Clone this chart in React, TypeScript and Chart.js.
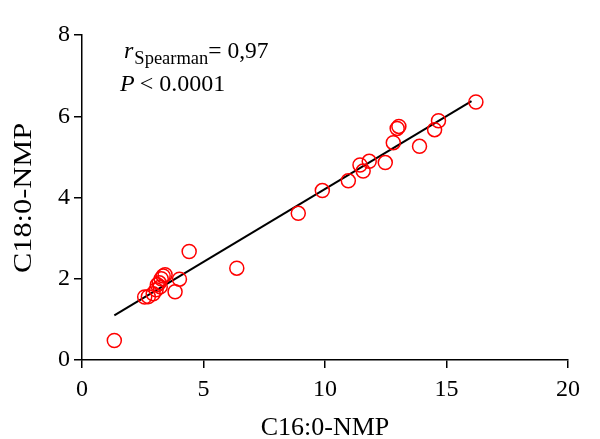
import React, { useEffect, useRef } from "react";
import { Chart, registerables } from "chart.js";

Chart.register(...registerables);

const c16Values = [
  1.33, 2.58, 2.73, 2.93, 3.05, 3.1, 3.18, 3.22, 3.26, 3.34, 3.42, 3.83, 4.01,
  4.41, 6.37, 8.9, 9.89, 10.96, 11.44, 11.57, 11.82, 12.48, 12.81, 12.97, 13.04,
  13.89, 14.51, 14.67, 16.21,
];
const c18Values = [
  0.48, 1.55, 1.56, 1.63, 1.73, 1.85, 1.9, 1.8, 2.0, 2.07, 2.1, 1.68, 1.99,
  2.67, 2.26, 3.61, 4.17, 4.41, 4.8, 4.65, 4.89, 4.86, 5.35, 5.7, 5.75, 5.26,
  5.67, 5.89, 6.35,
];
const fitX = [1.33, 16.03];
const fitY = [1.1, 6.37];
const xTicks = [0, 5, 10, 15, 20];
const yTicks = [0, 2, 4, 6, 8];
const xTitle = "C16:0-NMP";
const yTitle = "C18:0-NMP";
const statLabel = "0,97";
const pLabel = "0.0001";

const SERIF = "'Liberation Serif', 'Times New Roman', serif";

const annotationPlugin = {
  id: "annot",
  afterDraw(chart: any) {
    const ctx = chart.ctx;
    ctx.save();
    ctx.fillStyle = "#000";
    ctx.textBaseline = "alphabetic";
    ctx.textAlign = "left";
    let x = 124;
    const y1 = 58;
    ctx.font = `italic 24px ${SERIF}`;
    ctx.fillText("r", x, y1);
    x += ctx.measureText("r").width + 1;
    ctx.font = `18.5px ${SERIF}`;
    ctx.fillText("Spearman", x, y1 + 6);
    x += ctx.measureText("Spearman").width;
    ctx.font = `23.5px ${SERIF}`;
    ctx.fillText("= " + statLabel, x, y1);
    const y2 = 91;
    let x2 = 120;
    ctx.font = `italic 24px ${SERIF}`;
    ctx.fillText("P", x2, y2);
    x2 += ctx.measureText("P").width + 5;
    ctx.font = `24px ${SERIF}`;
    ctx.fillText("< " + pLabel, x2, y2);

    // y axis title (stretched along its length like the reference)
    ctx.font = `26px ${SERIF}`;
    const w = ctx.measureText(yTitle).width;
    ctx.translate(24, 198);
    ctx.rotate(-Math.PI / 2);
    ctx.scale(150 / w, 1);
    ctx.textAlign = "center";
    ctx.textBaseline = "middle";
    ctx.fillText(yTitle, 0, 0);
    ctx.restore();
  },
};

export default function App() {
  const ref = useRef<HTMLCanvasElement | null>(null);
  useEffect(() => {
    if (!ref.current) return;
    const scatter = c16Values.map((x, i) => ({ x, y: c18Values[i] }));
    const fit = fitX.map((x, i) => ({ x, y: fitY[i] }));
    const chart = new Chart(ref.current, {
      type: "scatter",
      data: {
        datasets: [
          {
            type: "line",
            data: fit,
            borderColor: "#000",
            borderWidth: 2,
            pointRadius: 0,
            fill: false,
            order: 1,
          } as any,
          {
            data: scatter,
            borderColor: "#ff0000",
            backgroundColor: "rgba(255,255,255,0)",
            borderWidth: 1.5,
            pointRadius: 7,
            pointHoverRadius: 7,
            order: 0,
          },
        ],
      },
      options: {
        animation: false,
        responsive: false,
        maintainAspectRatio: false,
        events: [],
        layout: { padding: { left: 0, right: 32, top: 35, bottom: 0 } },
        plugins: { legend: { display: false }, tooltip: { enabled: false } },
        scales: {
          x: {
            type: "linear",
            min: 0,
            max: 20,
            afterBuildTicks: (s: any) => {
              s.ticks = xTicks.map((v) => ({ value: v }));
            },
            afterFit: (s: any) => {
              s.height = 79;
            },
            grid: {
              drawOnChartArea: false,
              drawTicks: true,
              tickLength: 8,
              color: "#000",
              lineWidth: 1.5,
            },
            border: { display: true, color: "#000", width: 1.5 },
            ticks: {
              color: "#000",
              font: { family: SERIF, size: 24 },
              padding: 7,
              maxRotation: 0,
            },
            title: {
              display: true,
              text: xTitle,
              color: "#000",
              font: { family: SERIF, size: 26 },
              padding: { top: 2, bottom: -5 },
            },
          },
          y: {
            type: "linear",
            min: 0,
            max: 8,
            afterBuildTicks: (s: any) => {
              s.ticks = yTicks.map((v) => ({ value: v }));
            },
            afterFit: (s: any) => {
              s.width = 82;
            },
            grid: {
              drawOnChartArea: false,
              drawTicks: true,
              tickLength: 8,
              color: "#000",
              lineWidth: 1.5,
            },
            border: { display: true, color: "#000", width: 1.5 },
            ticks: {
              color: "#000",
              font: { family: SERIF, size: 24 },
              padding: 4,
            },
            title: { display: false },
          },
        },
      },
      plugins: [annotationPlugin],
    });
    return () => chart.destroy();
  }, []);
  return (
    <div
      style={{
        position: "fixed",
        left: 0,
        top: 0,
        width: 600,
        height: 439,
        background: "#fff",
      }}
    >
      <canvas ref={ref} width={600} height={439} style={{ width: 600, height: 439 }} />
    </div>
  );
}
